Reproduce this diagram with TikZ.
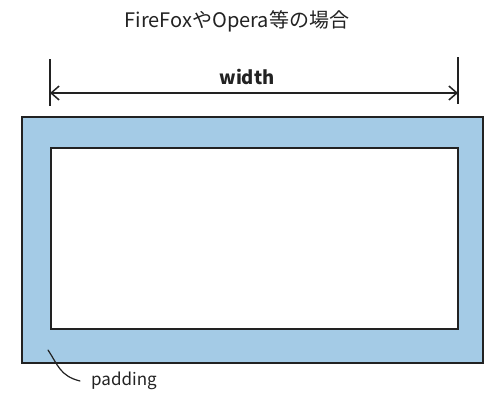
\documentclass[tikz,border=0pt]{standalone}
\usepackage{fontspec}
\setmainfont{Noto Sans CJK JP}
\newfontfamily\cjk{Noto Sans CJK JP}
\usetikzlibrary{arrows.meta}
\definecolor{padblue}{HTML}{A4CBE6}
\definecolor{ink}{HTML}{222222}
\tikzset{
  boxline/.style={draw=ink, line width=1.8pt},
  dimline/.style={draw=ink, line width=1.5pt},
  lbl/.style={inner sep=0pt, text=ink},
}
\begin{document}
\begin{tikzpicture}[x=1pt,y=-1pt]
\useasboundingbox (0,0) rectangle (500,400);
\node[lbl, font=\cjk\fontsize{20}{22}\selectfont] (title) at (237,21) {FireFoxやOpera等の場合};
\draw[boxline, fill=padblue] (22,117) rectangle (483,363);
\node[boxline, fill=white, minimum width=407pt, minimum height=181pt, inner sep=0pt, anchor=north west] (inner) at (50,147) {};
\coordinate (tl1) at (50,59);
\coordinate (tl2) at (50,106);
\coordinate (tr1) at (458,57);
\coordinate (tr2) at (458,104);
\draw[dimline] (tl1) -- (tl2);
\draw[dimline] (tr1) -- (tr2);
\coordinate (al) at (50,93);
\coordinate (ar) at (458,93);
\draw[dimline, {Straight Barb[length=8pt,width=14pt,line width=1.5pt]}-{Straight Barb[length=8pt,width=14pt,line width=1.5pt]}] (al) -- (ar);
\node[lbl, font=\cjk\bfseries\fontsize{18.5}{22}\selectfont] (w) at (247,77) {width};
\coordinate (p1) at (48,350);
\coordinate (p2) at (80,381);
\draw[ink, line width=1.2pt, line cap=round] (p1) .. controls (58,365) and (60,376) .. (p2);
\node[lbl, font=\cjk\fontsize{17}{20}\selectfont, anchor=west] (pad) at (91,381) {padding};
\end{tikzpicture}
\end{document}
